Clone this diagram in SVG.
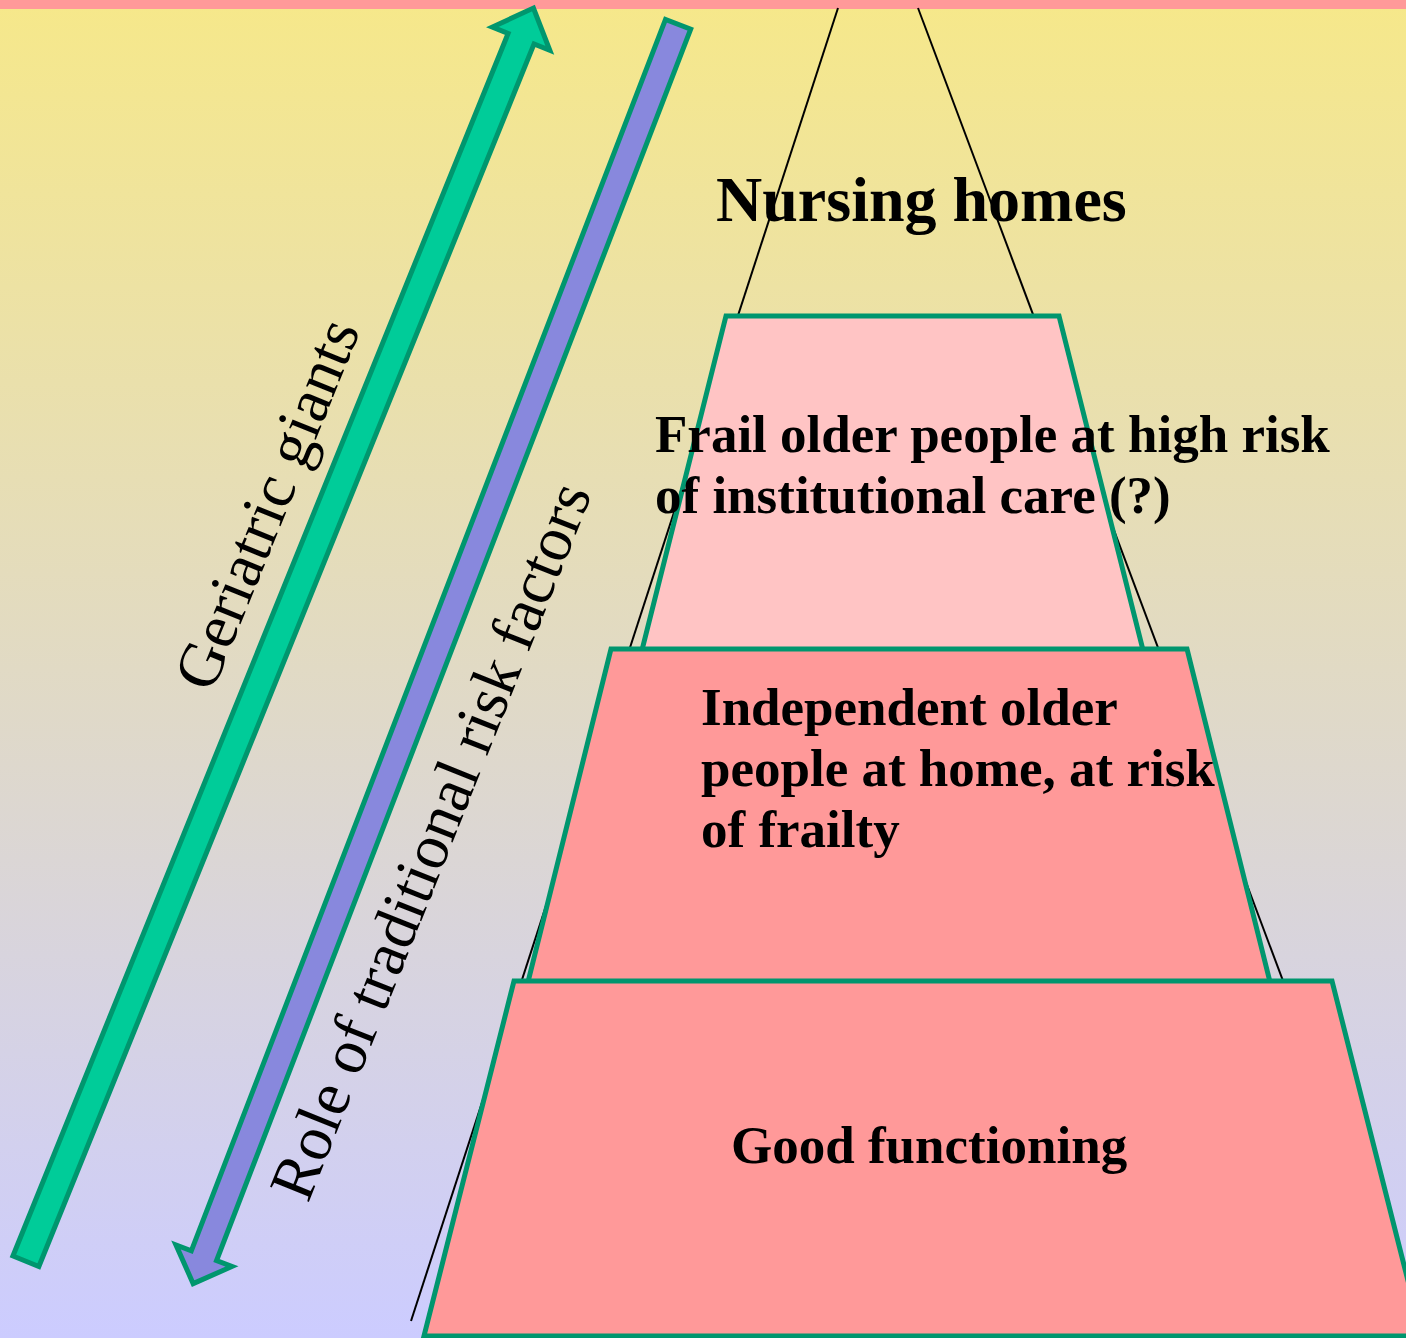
<svg xmlns="http://www.w3.org/2000/svg" width="1406" height="1338" viewBox="0 0 1406 1338">
  <defs>
    <linearGradient id="bg" x1="0" y1="0" x2="0" y2="1">
      <stop offset="0" stop-color="#F6E88A"/>
      <stop offset="1" stop-color="#CCCCFF"/>
    </linearGradient>
    <style>
      .tier { stroke: #00966E; stroke-width: 5; stroke-linejoin: miter; }
      .guide { stroke: #000000; stroke-width: 2; fill: none; }
      .arrow { stroke: #00966E; stroke-width: 5; stroke-linejoin: miter; stroke-miterlimit: 10; }
      .lbl { font-family: "Liberation Serif", "Times New Roman", serif; font-weight: bold; font-size: 53px; fill: #000000; }
      .side { font-family: "Liberation Serif", "Times New Roman", serif; font-size: 63.5px; fill: #000000; }
    </style>
  </defs>

  <rect x="0" y="0" width="1406" height="1338" fill="url(#bg)"/>
  <rect x="0" y="0" width="1406" height="9" fill="#FF9999"/>

  <g id="connectors">
    <line class="guide" x1="838" y1="8" x2="411" y2="1321"/>
    <line class="guide" x1="918" y1="8" x2="1417" y2="1338"/>
  </g>

  <g id="tier-frail">
    <polygon class="tier" fill="#FFC4C4" points="726,316 1059,316 1147,666 638,666"/>
  </g>
  <g id="tier-independent">
    <polygon class="tier" fill="#FF9999" points="611,649 1187,649 1272,990 526,990"/>
  </g>
  <g id="tier-good">
    <polygon class="tier" fill="#FF9999" points="514,981 1332,981 1422,1336 424,1336"/>
  </g>

  <g id="arrow-geriatric">
    <polygon class="arrow" fill="#00CC99" transform="translate(25.9,1261.2) rotate(-67.95)" points="0,-14 1319,-14 1319,-31 1352,0 1319,31 1319,14 0,14"/>
    <text class="side" transform="translate(212,694) rotate(-67.8)">Geriatric giants</text>
  </g>

  <g id="arrow-risk">
    <polygon class="arrow" fill="#8888DD" transform="translate(678.1,24.3) rotate(111.06)" points="0,-13.5 1319.5,-13.5 1319.5,-30 1349.5,0 1319.5,30 1319.5,13.5 0,13.5"/>
    <text class="side" transform="translate(308,1204) rotate(-68.2)">Role of traditional risk factors</text>
  </g>

  <g id="label-nursing">
    <text class="lbl" x="716" y="221" style="font-size:64px">Nursing homes</text>
  </g>
  <g id="label-frail">
    <text class="lbl" x="655" y="452">Frail older people at high risk</text>
    <text class="lbl" x="655" y="513">of institutional care (?)</text>
  </g>
  <g id="label-independent">
    <text class="lbl" x="701" y="725">Independent older</text>
    <text class="lbl" x="701" y="786">people at home, at risk</text>
    <text class="lbl" x="701" y="847">of frailty</text>
  </g>
  <g id="label-good">
    <text class="lbl" x="731" y="1163">Good functioning</text>
  </g>
</svg>
